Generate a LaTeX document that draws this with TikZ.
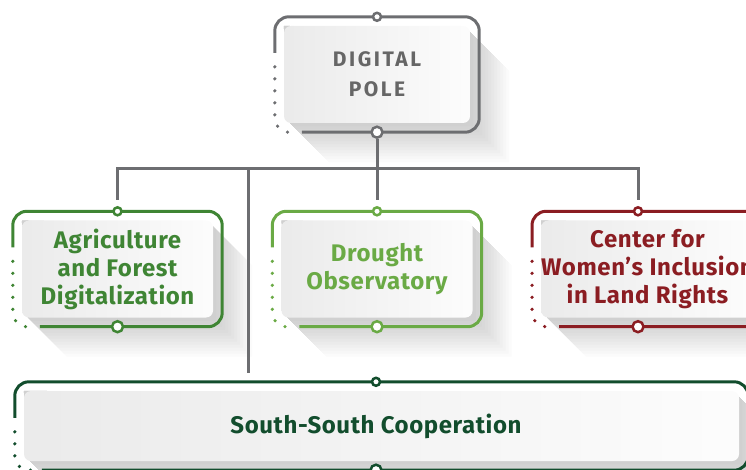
\documentclass[tikz,border=0pt]{standalone}
\usepackage{fontspec}
\setmainfont{Fira Sans}
\usetikzlibrary{positioning,calc,backgrounds}
\definecolor{poleGrey}{HTML}{6D6E71}
\definecolor{poleText}{HTML}{666666}
\definecolor{agriGreen}{HTML}{3F8534}
\definecolor{droughtGreen}{HTML}{6AAA45}
\definecolor{womenRed}{HTML}{8B1D22}
\definecolor{coopGreen}{HTML}{124D2D}
\newcommand{\cardframe}[2]{%
  \draw[#2, line width=3pt, rounded corners=14pt]
    ($(#1.north west)+(-9pt,-27pt)$) -- ($(#1.north west)+(-9pt,9pt)$)
    -- ($(#1.north east)+(9pt,9pt)$) -- ($(#1.south east)+(9pt,-9pt)$)
    -- ($(#1.south west)+(18pt,-9pt)$);
  \draw[#2, line width=3.6pt, line cap=round, dash pattern=on 0pt off 12pt, rounded corners=14pt]
    ($(#1.north west)+(-9pt,-41pt)$) -- ($(#1.south west)+(-9pt,-9pt)$)
    -- ($(#1.south west)+(10pt,-9pt)$);
}
\newcommand{\cardshadow}[1]{%
  \foreach \d in {3,6,...,39}
    \fill[black, opacity=0.014] ($(#1.north east)+(0,-6pt)$) -- ++(\d pt,-\d pt)
      -- ($(#1.south east)+(\d pt,-\d pt)$) -- ($(#1.south west)+(6pt+\d pt,-\d pt)$)
      -- ($(#1.south west)+(6pt,0)$) -- (#1.north west) -- cycle;
}
\tikzset{
  card/.style={rectangle, rounded corners=7pt, inner sep=0pt, align=center,
    left color=black!8, right color=black!1, minimum width=191pt, minimum height=97pt,
    font=\bfseries\fontsize{24}{28}\selectfont\addfontfeature{LetterSpace=2.5}},
  ring/.style={circle, draw=#1, fill=white, line width=2.5pt, inner sep=0pt, minimum size=8pt},
  bigring/.style={ring=#1, minimum size=11pt},
  link/.style={draw=poleGrey, line width=3pt},
}
\begin{document}
\begin{tikzpicture}
  \useasboundingbox (0,0) rectangle (746pt,-470pt);
  \clip (0,0) rectangle (746pt,-470pt);
  % cards
  \node[card, text=poleText, minimum width=186pt,
    font=\bfseries\fontsize{21}{30}\selectfont\addfontfeature{LetterSpace=12}] (pole) at (377pt,-74.5pt) {DIGITAL\\POLE};
  \node[card, text=agriGreen, on grid, below left=194.5pt and 259.5pt of pole] (agri) {Agriculture\\and Forest\\Digitalization};
  \node[card, text=droughtGreen, on grid, below=194.5pt of pole] (drought) {Drought\\Observatory};
  \node[card, text=womenRed, minimum width=207pt, on grid, below right=194.5pt and 270.5pt of pole] (women) {Center for\\Women’s Inclusion\\in Land Rights};
  \node[card, minimum width=715pt, minimum height=70pt, on grid, below right=351.5pt and 4.5pt of pole,
    label={[text=coopGreen, font=\bfseries\fontsize{24}{28}\selectfont\addfontfeature{LetterSpace=2.5}, xshift=-5.5pt]center:South-South Cooperation}] (coop) {};
  % shadows
  \begin{scope}[on background layer]
    \cardshadow{pole}
    \cardshadow{agri}
    \cardshadow{drought}
    \cardshadow{women}
    \cardshadow{coop}
  \end{scope}
  % frames
  \cardframe{pole}{poleGrey}
  \cardframe{agri}{agriGreen}
  \cardframe{drought}{droughtGreen}
  \cardframe{women}{womenRed}
  \cardframe{coop}{coopGreen}
  % rings
  \node[ring=poleGrey] (poleIn) at ($(pole.north)+(0,9pt)$) {};
  \node[bigring=poleGrey] (poleOut) at ($(pole.south)+(0,-9pt)$) {};
  \node[ring=agriGreen] (agriIn) at ($(agri.north)+(0,9pt)$) {};
  \node[bigring=agriGreen] (agriOut) at ($(agri.south)+(0,-9pt)$) {};
  \node[ring=droughtGreen] (droughtIn) at ($(drought.north)+(0,9pt)$) {};
  \node[bigring=droughtGreen] (droughtOut) at ($(drought.south)+(0,-9pt)$) {};
  \node[ring=womenRed] (womenIn) at ($(women.north)+(-9.5pt,9pt)$) {};
  \node[bigring=womenRed] (womenOut) at ($(women.south)+(-9.5pt,-9pt)$) {};
  \node[ring=coopGreen] (coopIn) at ($(coop.north)+(-5.5pt,9pt)$) {};
  \node[bigring=coopGreen] (coopOut) at ($(coop.south)+(-5.5pt,-9pt)$) {};
  % links
  \draw[link, shorten >=6pt] (poleOut) -- ++(0,-36pt) -| (agriIn);
  \draw[link, shorten >=6pt] (poleOut) -- ++(0,-36pt) -| (womenIn);
  \draw[link, shorten >=6pt] (poleOut) -- (droughtIn);
  \path (poleOut) ++(-129pt,-36pt) coordinate (split);
  \draw[link, shorten >=9pt] (split) -- (split |- coopIn);
\end{tikzpicture}
\end{document}
